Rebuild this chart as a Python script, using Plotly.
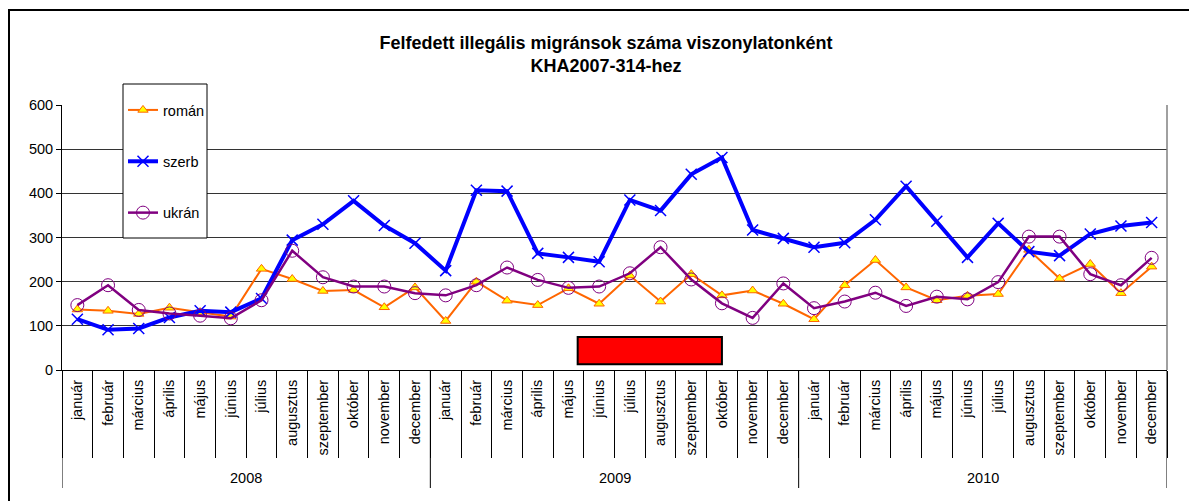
import plotly.graph_objects as go

# ---- data ----
years = ["2008", "2009", "2010"]
months = ["január", "február", "március", "április", "május", "június",
          "július", "augusztus", "szeptember", "október", "november", "december"]

roman = [137, 134, 127, 141, 131, 121, 229, 206, 179, 181, 142, 187,
         111, 200, 157, 147, 185, 150, 214, 155, 217, 169, 180, 150,
         115, 192, 249, 187, 158, 168, 172, 272, 207, 240, 174, 234]
szerb = [115, 91, 94, 119, 134, 131, 162, 294, 330, 383, 327, 287,
         225, 407, 405, 264, 255, 245, 385, 361, 443, 481, 317, 298,
         278, 288, 340, 416, 337, 255, 332, 268, 259, 308, 326, 334]
ukran = [147, 192, 136, 128, 123, 117, 158, 270, 210, 189, 189, 174,
         169, 192, 232, 204, 186, 189, 219, 278, 205, 151, 118, 196,
         140, 155, 175, 145, 166, 160, 199, 302, 302, 217, 192, 254]

series_names = ["román", "szerb", "ukrán"]
title_lines = ["Felfedett illegális migránsok száma viszonylatonként", "KHA2007-314-hez"]

# ---- build ----
labels = [m for y in years for m in months]
idx = list(range(len(labels)))
FONT = "Arial, Liberation Sans, sans-serif"
FS = 14.5

W, H = 1189, 493
L, R, T, B = 54, 30, 97, 131
PW, PH = W - L - R, H - T - B


def px(xs):
    return (xs - 8 - L) / PW


def py(ys):
    return (H - B - (ys - 8)) / PH


fig = go.Figure()
fig.add_trace(go.Scatter(
    x=idx, y=roman, name=series_names[0], mode="lines+markers", legendgroup="a",
    line=dict(color="#FF6600", width=2),
    marker=dict(symbol="triangle-up", size=9, color="#FFFF00",
                line=dict(color="#FF6600", width=1))))
fig.add_trace(go.Scatter(
    x=idx, y=szerb, name=series_names[1], mode="lines+markers", legendgroup="b",
    line=dict(color="#0000FF", width=4),
    marker=dict(symbol="x-thin", size=11, color="#0000FF",
                line=dict(color="#0000FF", width=1.5))))
fig.add_trace(go.Scatter(
    x=idx, y=ukran, name=series_names[2], mode="lines+markers", legendgroup="c",
    line=dict(color="#800080", width=2.5),
    marker=dict(symbol="circle-open", size=13, color="#800080",
                line=dict(color="#800080", width=1))))

n = len(labels)
shapes = []
# outer chart frame
shapes.append(dict(type="rect", xref="paper", yref="paper",
                   x0=px(9), x1=px(1210), y0=py(520), y1=py(10),
                   line=dict(color="black", width=2), fillcolor="rgba(0,0,0,0)", layer="below"))
# right plot border (gray)
shapes.append(dict(type="line", xref="paper", yref="paper", x0=1, x1=1, y0=0, y1=1,
                   line=dict(color="#808080", width=1.5)))
# year dividers
for k in range(len(years) + 1):
    xv = k * len(months) - 0.5
    shapes.append(dict(type="line", xref="x", yref="paper", x0=xv, x1=xv, y0=0, y1=py(488),
                       line=dict(color="black", width=1)))
# red box
shapes.append(dict(type="rect", xref="x", yref="y", x0=16.3, x1=21.0, y0=13, y1=75,
                   fillcolor="#FF0000", line=dict(color="black", width=2), layer="above"))
# legend box
shapes.append(dict(type="rect", xref="paper", yref="paper",
                   x0=px(123), x1=px(207), y0=py(238), y1=py(84),
                   fillcolor="white", line=dict(color="black", width=1), layer="above"))

annotations = []
for k, yr in enumerate(years):
    annotations.append(dict(x=k * len(months) + (len(months) - 1) / 2, xref="x",
                            y=py(478), yref="paper", text=yr, showarrow=False,
                            font=dict(family=FONT, size=FS, color="black"),
                            xanchor="center", yanchor="middle"))

fig.update_layout(
    width=W, height=H,
    margin=dict(l=L, r=R, t=T, b=B, autoexpand=False),
    paper_bgcolor="white", plot_bgcolor="white",
    font=dict(family=FONT, size=FS, color="black"),
    title=dict(text="<b>" + "<br>".join(title_lines) + "</b>",
               x=(606 - 8) / W, xanchor="center", xref="container",
               y=1 - (49 - 8) / H, yanchor="middle", yref="container",
               font=dict(family=FONT, size=18, color="black")),
    showlegend=True,
    legend=dict(x=px(123), xanchor="left",
                y=py(94), yanchor="top",
                bgcolor="rgba(0,0,0,0)", borderwidth=0,
                tracegroupgap=29.5, traceorder="grouped",
                font=dict(family=FONT, size=FS, color="black")),
    shapes=shapes, annotations=annotations,
)
fig.update_xaxes(
    range=[-0.5, n - 0.5], tickmode="array", tickvals=idx, ticktext=labels,
    tickangle=-90, ticks="", showgrid=False, zeroline=False,
    showline=True, linecolor="black", linewidth=1,
    ticklabelstandoff=3,
    tickfont=dict(family=FONT, size=FS, color="black"),
    minor=dict(tickmode="linear", tick0=-0.5, dtick=1, ticks="outside",
               ticklen=87, tickcolor="black", tickwidth=1, showgrid=False),
)
fig.update_yaxes(
    range=[0, 600], tickvals=[0, 100, 200, 300, 400, 500, 600],
    ticks="outside", ticklen=5, tickcolor="black",
    showline=True, linecolor="black", linewidth=1,
    showgrid=True, gridcolor="#333333", gridwidth=1, zeroline=False,
    tickfont=dict(family=FONT, size=FS, color="black"),
)

fig.write_html("out.html")
